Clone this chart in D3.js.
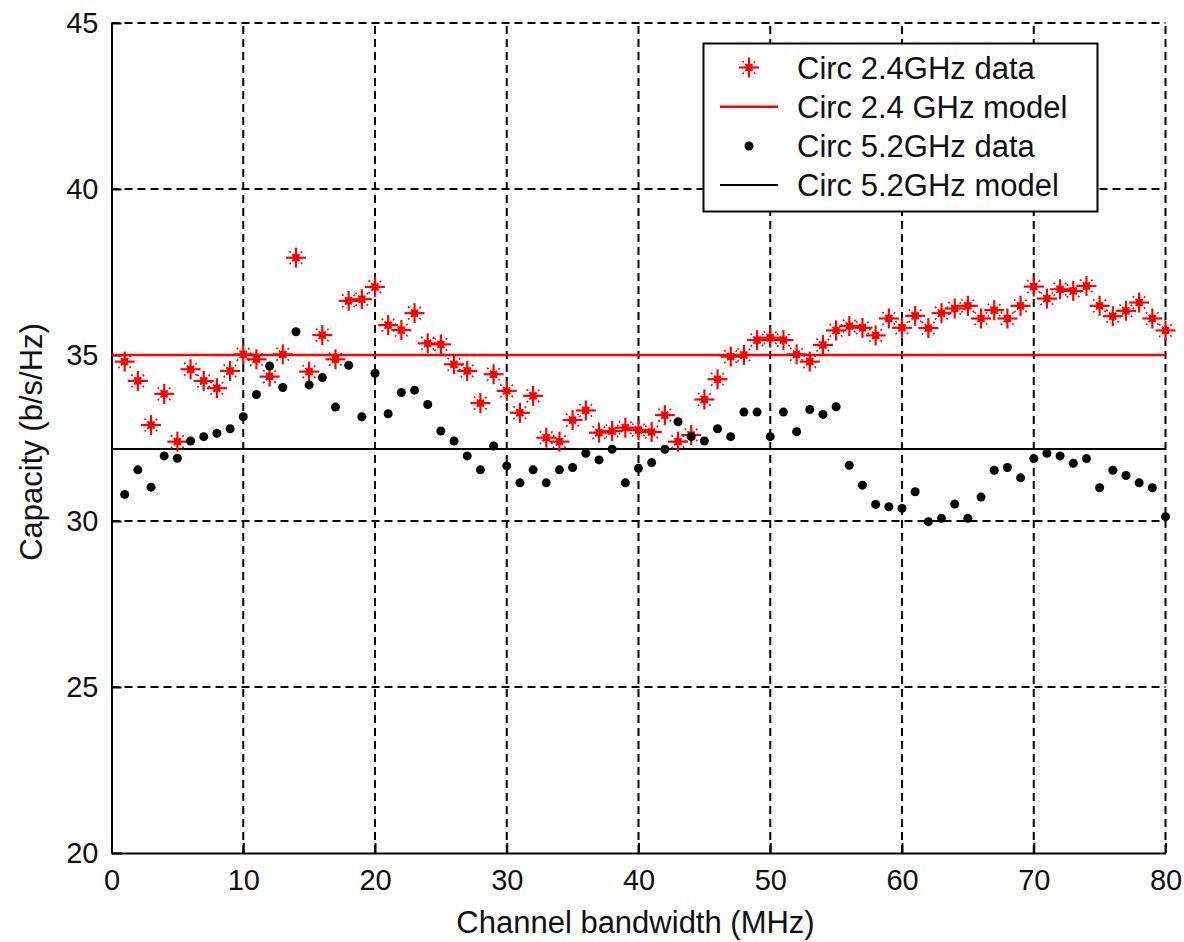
<!DOCTYPE html>
<html>
<head>
<meta charset="utf-8">
<script src="https://cdn.jsdelivr.net/npm/d3@7"></script>
<style>
  html, body { margin: 0; padding: 0; background: #fff; }
  svg { display: block; }
  text { font-family: "Liberation Sans", Arial, sans-serif; fill: #111; }
</style>
</head>
<body>
<svg id="chart" width="1184" height="942"></svg>
<script>
// ---- data ----
const bandwidth = d3.range(1, 81);
const circ24Data = [
  34.80, 34.22, 32.89, 33.83, 32.39, 34.57, 34.22, 34.00, 34.52, 35.02,
  34.87, 34.35, 35.02, 37.93, 34.50, 35.60, 34.87, 36.63, 36.68, 37.05,
  35.90, 35.75, 36.26, 35.35, 35.32, 34.72, 34.52, 33.55, 34.42, 33.92,
  33.26, 33.77, 32.51, 32.39, 33.04, 33.33, 32.66, 32.71, 32.81, 32.74,
  32.68, 33.19, 32.39, 32.59, 33.66, 34.27, 34.95, 35.00, 35.45, 35.52,
  35.45, 35.02, 34.80, 35.30, 35.74, 35.87, 35.82, 35.59, 36.10, 35.82,
  36.18, 35.81, 36.26, 36.40, 36.48, 36.10, 36.35, 36.10, 36.48, 37.06,
  36.70, 36.98, 36.93, 37.08, 36.48, 36.17, 36.33, 36.58, 36.10, 35.74
];
const circ52Data = [
  30.80, 31.54, 31.02, 31.96, 31.89, 32.41, 32.54, 32.64, 32.78, 33.14,
  33.81, 34.67, 34.02, 35.70, 34.10, 34.32, 33.43, 34.69, 33.14, 34.45,
  33.23, 33.87, 33.94, 33.51, 32.71, 32.41, 31.96, 31.54, 32.26, 31.66,
  31.15, 31.54, 31.15, 31.54, 31.61, 32.04, 31.84, 32.16, 31.15, 31.59,
  31.76, 32.16, 32.99, 32.54, 32.41, 32.78, 32.54, 33.28, 33.28, 32.54,
  33.28, 32.69, 33.36, 33.21, 33.44, 31.68, 31.08, 30.50, 30.43, 30.38,
  30.88, 29.98, 30.08, 30.51, 30.08, 30.72, 31.53, 31.61, 31.30, 31.88,
  32.04, 31.96, 31.74, 31.88, 31.00, 31.53, 31.37, 31.15, 31.00, 30.13
];
const circ24Model = 35.0;
const circ52Model = 32.17;
const xTicks = [0, 10, 20, 30, 40, 50, 60, 70, 80];
const yTicks = [20, 25, 30, 35, 40, 45];
const legendLabels = ["Circ 2.4GHz data", "Circ 2.4 GHz model", "Circ 5.2GHz data", "Circ 5.2GHz model"];
const xLabel = "Channel bandwidth (MHz)";
const yLabel = "Capacity (b/s/Hz)";

// ---- layout ----
const L = 111.5, R = 1165.5, T = 23, B = 853;
const svg = d3.select("#chart");
const x = d3.scaleLinear().domain([0, 80]).range([L, R]);
const y = d3.scaleLinear().domain([20, 45]).range([B, T]);

// grid (dashed)
const grid = svg.append("g");
grid.selectAll("line.vg").data(xTicks.filter(d => d > 0)).join("line")
  .attr("x1", d => x(d)).attr("x2", d => x(d)).attr("y1", B).attr("y2", T)
  .attr("stroke", "#000").attr("stroke-width", 2).attr("stroke-dasharray", "8,5");
grid.selectAll("line.hg").data(yTicks.filter(d => d > 20)).join("line")
  .attr("x1", L).attr("x2", R).attr("y1", d => y(d)).attr("y2", d => y(d))
  .attr("stroke", "#000").attr("stroke-width", 2).attr("stroke-dasharray", "8,5");

// axes
const xAxis = d3.axisBottom(x).tickValues(xTicks).tickSizeInner(-10).tickSizeOuter(0).tickPadding(16);
const yAxis = d3.axisLeft(y).tickValues(yTicks).tickSizeInner(-10).tickSizeOuter(0).tickPadding(13);
const gx = svg.append("g").attr("transform", `translate(0,${B})`).call(xAxis);
const gy = svg.append("g").attr("transform", `translate(${L},0)`).call(yAxis);
[gx, gy].forEach(g => {
  g.select(".domain").attr("stroke", "#000").attr("stroke-width", 2);
  g.selectAll(".tick line").attr("stroke", "#000").attr("stroke-width", 2);
  g.selectAll(".tick text").style("font-family", "'Liberation Sans', Arial, sans-serif")
    .style("font-size", "29px").attr("fill", "#111");
});
gx.selectAll(".tick text").attr("dy", "0.71em");

// model lines
svg.append("line").attr("x1", x(0)).attr("x2", x(80))
  .attr("y1", y(circ24Model)).attr("y2", y(circ24Model))
  .attr("stroke", "#ff0000").attr("stroke-width", 2.5);
svg.append("line").attr("x1", x(0)).attr("x2", x(80))
  .attr("y1", y(circ52Model)).attr("y2", y(circ52Model))
  .attr("stroke", "#000").attr("stroke-width", 2);

// star marker
function drawStar(g) {
  g.append("line").attr("x1", -10).attr("x2", 10).attr("y1", 0).attr("y2", 0)
    .attr("stroke", "#ff0000").attr("stroke-width", 2.2);
  g.append("line").attr("x1", 0).attr("x2", 0).attr("y1", -10).attr("y2", 10)
    .attr("stroke", "#ff0000").attr("stroke-width", 2.2);
  g.append("line").attr("x1", -6.5).attr("x2", 6.5).attr("y1", -6.5).attr("y2", 6.5)
    .attr("stroke", "#ff0000").attr("stroke-width", 1.6).attr("stroke-dasharray", "2,2");
  g.append("line").attr("x1", -6.5).attr("x2", 6.5).attr("y1", 6.5).attr("y2", -6.5)
    .attr("stroke", "#ff0000").attr("stroke-width", 1.6).attr("stroke-dasharray", "2,2");
  g.append("rect").attr("x", -3.5).attr("y", -3.5).attr("width", 7).attr("height", 7)
    .attr("fill", "#ff0000");
}

const d24 = bandwidth.map((b, i) => ({ b, v: circ24Data[i] }));
const d52 = bandwidth.map((b, i) => ({ b, v: circ52Data[i] }));

svg.append("g").selectAll("g").data(d24).join("g")
  .attr("transform", d => `translate(${x(d.b)},${y(d.v)})`)
  .each(function () { drawStar(d3.select(this)); });

svg.append("g").selectAll("circle").data(d52).join("circle")
  .attr("cx", d => x(d.b)).attr("cy", d => y(d.v)).attr("r", 4.5).attr("fill", "#000");

// axis labels
svg.append("text").attr("x", (L + R) / 2 - 3).attr("y", 933).attr("text-anchor", "middle")
  .style("font-size", "31px").text(xLabel);
svg.append("text").attr("transform", `translate(42,442) rotate(-90)`)
  .attr("text-anchor", "middle").style("font-size", "31px").text(yLabel);

// legend
const lg = svg.append("g");
lg.append("rect").attr("x", 703.5).attr("y", 43.5).attr("width", 394).attr("height", 168)
  .attr("fill", "#fff").attr("stroke", "#000").attr("stroke-width", 2);
const rowsY = [67.5, 106.7, 146, 185];
lg.selectAll("text").data(legendLabels).join("text")
  .attr("x", 797).attr("y", (d, i) => rowsY[i] + 11)
  .style("font-size", "31px").text(d => d);
drawStar(lg.append("g").attr("transform", `translate(749,${rowsY[0]})`));
lg.append("line").attr("x1", 720).attr("x2", 778).attr("y1", rowsY[1]).attr("y2", rowsY[1])
  .attr("stroke", "#ff0000").attr("stroke-width", 2.5);
lg.append("circle").attr("cx", 749).attr("cy", rowsY[2]).attr("r", 4.5).attr("fill", "#000");
lg.append("line").attr("x1", 720).attr("x2", 778).attr("y1", rowsY[3]).attr("y2", rowsY[3])
  .attr("stroke", "#000").attr("stroke-width", 2);
</script>
</body>
</html>
